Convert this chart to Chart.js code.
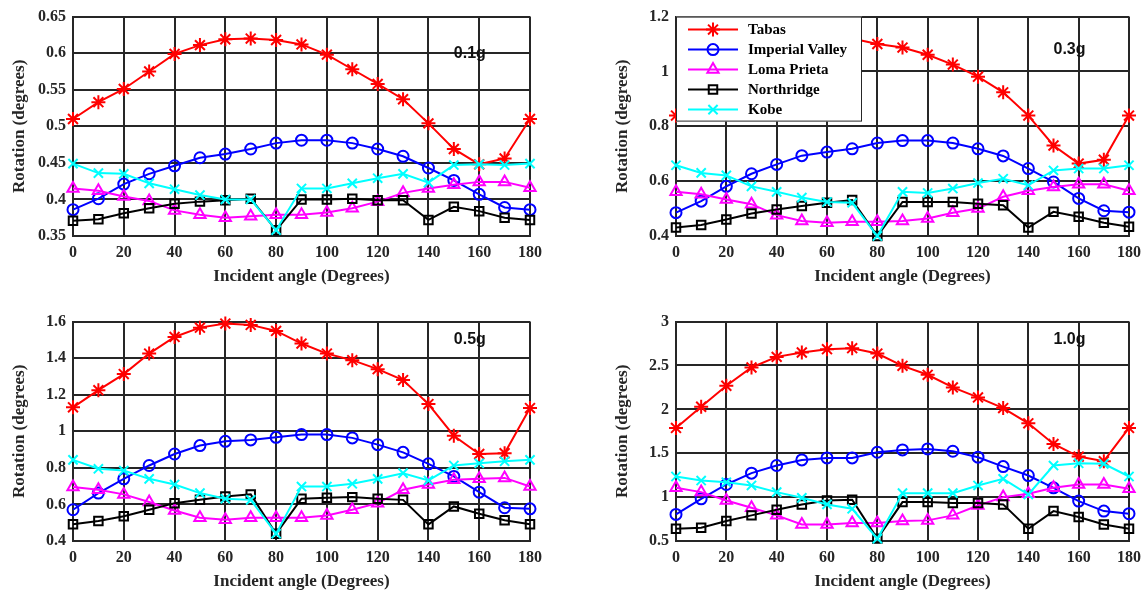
<!DOCTYPE html>
<html>
<head>
<meta charset="UTF-8">
<title>Rotation vs incident angle</title>
<script src="https://cdn.jsdelivr.net/npm/chart.js"></script>
<style>
  body { margin: 0; background: #fff; width: 1148px; height: 596px; overflow: hidden; position: relative; }
  .panel { position: absolute; height: 291px; }
</style>
</head>
<body>

<div class="panel" style="left:0; top:0; width:560px;"><canvas id="c01"></canvas></div>
<div class="panel" style="left:603px; top:0; width:545px;"><canvas id="c03"></canvas></div>
<div class="panel" style="left:0; top:305px; width:560px;"><canvas id="c05"></canvas></div>
<div class="panel" style="left:603px; top:305px; width:545px;"><canvas id="c10"></canvas></div>

<script>
    // incident angles (degrees)
    const angles = [0, 10, 20, 30, 40, 50, 60, 70, 80, 90, 100, 110, 120, 130, 140, 150, 160, 170, 180];
    const recordNames = ['Tabas', 'Imperial Valley', 'Loma Prieta', 'Northridge', 'Kobe'];

    // 0.1g
    const tabas01 = [0.510, 0.533, 0.551, 0.575, 0.599, 0.611, 0.619, 0.620, 0.618, 0.612, 0.598, 0.578, 0.558, 0.537, 0.504, 0.469, 0.448, 0.456, 0.510];
    const imperial01 = [0.386, 0.401, 0.421, 0.435, 0.446, 0.457, 0.462, 0.469, 0.477, 0.481, 0.481, 0.477, 0.469, 0.459, 0.443, 0.426, 0.407, 0.389, 0.386];
    const loma01 = [0.415, 0.412, 0.404, 0.398, 0.385, 0.379, 0.375, 0.377, 0.379, 0.379, 0.382, 0.388, 0.397, 0.409, 0.415, 0.420, 0.424, 0.424, 0.416];
    const northridge01 = [0.371, 0.373, 0.381, 0.388, 0.394, 0.397, 0.399, 0.401, 0.358, 0.400, 0.400, 0.401, 0.399, 0.399, 0.372, 0.390, 0.384, 0.375, 0.372];
    const kobe01 = [0.449, 0.436, 0.435, 0.422, 0.414, 0.406, 0.400, 0.400, 0.358, 0.415, 0.415, 0.422, 0.429, 0.435, 0.423, 0.447, 0.448, 0.447, 0.449];

    // 0.3g (Tabas 10-70 sits behind the legend, estimated)
    const tabas03 = [0.839, 0.90, 0.96, 1.03, 1.08, 1.11, 1.125, 1.12, 1.100, 1.087, 1.061, 1.025, 0.981, 0.924, 0.839, 0.730, 0.664, 0.678, 0.839];
    const imperial03 = [0.485, 0.527, 0.581, 0.627, 0.661, 0.693, 0.706, 0.718, 0.739, 0.748, 0.748, 0.739, 0.718, 0.692, 0.646, 0.597, 0.537, 0.492, 0.487];
    const loma03 = [0.561, 0.552, 0.533, 0.516, 0.476, 0.455, 0.448, 0.452, 0.452, 0.455, 0.464, 0.485, 0.500, 0.543, 0.565, 0.579, 0.589, 0.589, 0.565];
    const northridge03 = [0.431, 0.440, 0.460, 0.482, 0.497, 0.509, 0.521, 0.531, 0.400, 0.524, 0.524, 0.524, 0.518, 0.512, 0.431, 0.488, 0.470, 0.448, 0.434];
    const kobe03 = [0.658, 0.630, 0.621, 0.581, 0.561, 0.540, 0.524, 0.521, 0.400, 0.561, 0.557, 0.573, 0.593, 0.609, 0.585, 0.639, 0.646, 0.646, 0.658];

    // 0.5g
    const tabas05 = [1.131, 1.225, 1.313, 1.425, 1.516, 1.567, 1.589, 1.582, 1.549, 1.480, 1.425, 1.389, 1.340, 1.280, 1.149, 0.976, 0.876, 0.880, 1.127];
    const imperial05 = [0.571, 0.662, 0.740, 0.813, 0.876, 0.922, 0.945, 0.953, 0.967, 0.982, 0.982, 0.964, 0.927, 0.885, 0.822, 0.753, 0.667, 0.582, 0.576];
    const loma05 = [0.695, 0.680, 0.655, 0.613, 0.567, 0.527, 0.516, 0.527, 0.527, 0.527, 0.540, 0.571, 0.607, 0.680, 0.709, 0.735, 0.740, 0.745, 0.698];
    const northridge05 = [0.491, 0.509, 0.535, 0.571, 0.607, 0.625, 0.644, 0.655, 0.440, 0.631, 0.636, 0.640, 0.631, 0.625, 0.491, 0.589, 0.549, 0.513, 0.491];
    const kobe05 = [0.844, 0.795, 0.785, 0.740, 0.709, 0.662, 0.631, 0.625, 0.440, 0.698, 0.698, 0.713, 0.740, 0.771, 0.731, 0.813, 0.825, 0.836, 0.844];

    // 1.0g
    const tabas10 = [1.788, 2.030, 2.269, 2.477, 2.598, 2.648, 2.686, 2.697, 2.636, 2.496, 2.394, 2.250, 2.136, 2.015, 1.841, 1.606, 1.462, 1.409, 1.788];
    const imperial10 = [0.803, 0.981, 1.144, 1.273, 1.360, 1.424, 1.447, 1.447, 1.511, 1.538, 1.549, 1.523, 1.455, 1.348, 1.246, 1.106, 0.955, 0.841, 0.811];
    const loma10 = [1.106, 1.057, 0.962, 0.879, 0.792, 0.689, 0.689, 0.705, 0.705, 0.727, 0.735, 0.792, 0.905, 1.000, 1.038, 1.106, 1.144, 1.144, 1.095];
    const northridge10 = [0.640, 0.652, 0.727, 0.792, 0.856, 0.917, 0.962, 0.970, 0.527, 0.943, 0.943, 0.932, 0.932, 0.917, 0.640, 0.841, 0.773, 0.689, 0.640];
    const kobe10 = [1.235, 1.189, 1.170, 1.133, 1.057, 0.992, 0.917, 0.867, 0.527, 1.045, 1.045, 1.045, 1.133, 1.208, 1.030, 1.360, 1.386, 1.379, 1.235];

    // axis ranges per panel: [min, max, step]
    const yRange01 = [0.35, 0.65, 0.05];
    const yRange03 = [0.4, 1.2, 0.2];
    const yRange05 = [0.4, 1.6, 0.2];
    const yRange10 = [0.5, 3, 0.5];

    // PGA label and where it sits (data coords)
    const pgaLabels = ['0.1g', '0.3g', '0.5g', '1.0g'];
    const pgaLabelPos = [[150, 0.6], [150, 1.08], [150, 1.5], [150, 2.8]];

    // marker look per record
    const styles = [
        { color: '#ff0000', point: 'star', r: 7 },
        { color: '#0000ff', point: 'circle', r: 5.5 },
        { color: '#ff00ff', point: 'triangle', r: 6.5 },
        { color: '#000000', point: 'rect', r: 6 },
        { color: '#00ffff', point: 'crossRot', r: 6.5 },
    ];

    const axisColor = '#262626';
    const serifBold = { family: "'Liberation Serif', 'Times New Roman', serif", weight: 'bold' };

    function makeDatasets(seriesList) {
        return seriesList.map((vals, i) => ({
            label: recordNames[i],
            data: angles.map((a, k) => ({ x: a, y: vals[k] })),
            borderColor: styles[i].color,
            backgroundColor: 'rgba(0,0,0,0)',
            borderWidth: 2,
            pointStyle: styles[i].point,
            pointRadius: styles[i].r,
            pointBorderWidth: 2,
            pointBorderColor: styles[i].color,
            pointBackgroundColor: 'rgba(0,0,0,0)',
            tension: 0,
            clip: false,
            order: 5 - i   // later series drawn on top, like MATLAB
        }));
    }

    // text like "0.1g" inside the axes
    const pgaTextPlugin = {
        id: 'pgaText',
        afterDatasetsDraw(chart, args, opts) {
            const ctx = chart.ctx;
            ctx.save();
            ctx.font = "bold 16px 'Liberation Sans', Arial, sans-serif";
            ctx.fillStyle = '#111';
            ctx.textAlign = 'left';
            ctx.textBaseline = 'middle';
            ctx.fillText(opts.text, chart.scales.x.getPixelForValue(opts.pos[0]), chart.scales.y.getPixelForValue(opts.pos[1]));
            ctx.restore();
        }
    };

    // MATLAB-style legend box in the upper left corner
    const boxLegendPlugin = {
        id: 'boxLegend',
        afterDatasetsDraw(chart, args, opts) {
            if (!opts.show) return;
            const ctx = chart.ctx;
            const area = chart.chartArea;
            const x0 = area.left, y0 = area.top;
            const w = 186, h = 105;
            ctx.save();
            ctx.fillStyle = '#fff';
            ctx.fillRect(x0, y0, w, h);
            ctx.strokeStyle = axisColor;
            ctx.lineWidth = 1;
            ctx.strokeRect(x0 + 0.5, y0 + 0.5, w - 1, h - 1);
            ctx.font = "bold 15px 'Liberation Serif', 'Times New Roman', serif";
            ctx.textBaseline = 'middle';
            ctx.textAlign = 'left';
            chart.data.datasets.forEach((ds, i) => {
                const yy = y0 + 13 + i * 20;
                ctx.strokeStyle = ds.borderColor;
                ctx.lineWidth = 2;
                ctx.beginPath();
                ctx.moveTo(x0 + 12, yy);
                ctx.lineTo(x0 + 62, yy);
                ctx.stroke();
                ctx.fillStyle = 'rgba(0,0,0,0)';
                Chart.helpers.drawPoint(ctx, {
                    pointStyle: ds.pointStyle,
                    radius: ds.pointRadius,
                    borderWidth: 2,
                    rotation: 0
                }, x0 + 37, yy);
                ctx.fillStyle = '#000';
                ctx.fillText(ds.label, x0 + 72, yy + 1);
            });
            ctx.restore();
        }
    };

    function makeChart(id, seriesList, yRange, idx, rightPad, showLegend) {
        const ctx = document.getElementById(id).getContext('2d');
        return new Chart(ctx, {
            type: 'line',
            data: { datasets: makeDatasets(seriesList) },
            options: {
                responsive: true,
                maintainAspectRatio: false,
                animation: false,
                layout: { padding: { top: 16, right: rightPad, left: 0, bottom: 0 } },
                plugins: {
                    legend: { display: false },
                    tooltip: { enabled: false },
                    pgaText: { text: pgaLabels[idx], pos: pgaLabelPos[idx] },
                    boxLegend: { show: showLegend }
                },
                scales: {
                    x: {
                        type: 'linear',
                        min: 0, max: 180,
                        afterFit: s => { s.height = 55; },
                        ticks: { stepSize: 20, padding: 7, color: axisColor, font: { ...serifBold, size: 16 }, maxRotation: 0 },
                        grid: { color: axisColor, lineWidth: 2, drawTicks: false },
                        border: { display: true, color: axisColor, width: 2 },
                        title: { display: true, text: 'Incident angle (Degrees)', color: axisColor, font: { ...serifBold, size: 17 }, padding: { top: 4, bottom: 4 } }
                    },
                    y: {
                        min: yRange[0], max: yRange[1],
                        afterFit: s => { s.width = 73; },
                        ticks: {
                            stepSize: yRange[2], padding: 7, color: axisColor, font: { ...serifBold, size: 16 },
                            callback: v => String(Number(v.toFixed(2)))
                        },
                        grid: { color: axisColor, lineWidth: 2, drawTicks: false },
                        border: { display: true, color: axisColor, width: 2 },
                        title: { display: true, text: 'Rotation (degrees)', color: axisColor, font: { ...serifBold, size: 17 }, padding: { top: 9, bottom: 9 } }
                    }
                }
            },
            plugins: [pgaTextPlugin, boxLegendPlugin]
        });
    }

    makeChart('c01', [tabas01, imperial01, loma01, northridge01, kobe01], yRange01, 0, 30, false);
    makeChart('c03', [tabas03, imperial03, loma03, northridge03, kobe03], yRange03, 1, 15, true);
    makeChart('c05', [tabas05, imperial05, loma05, northridge05, kobe05], yRange05, 2, 30, false);
    makeChart('c10', [tabas10, imperial10, loma10, northridge10, kobe10], yRange10, 3, 15, false);
</script>

</body>
</html>
